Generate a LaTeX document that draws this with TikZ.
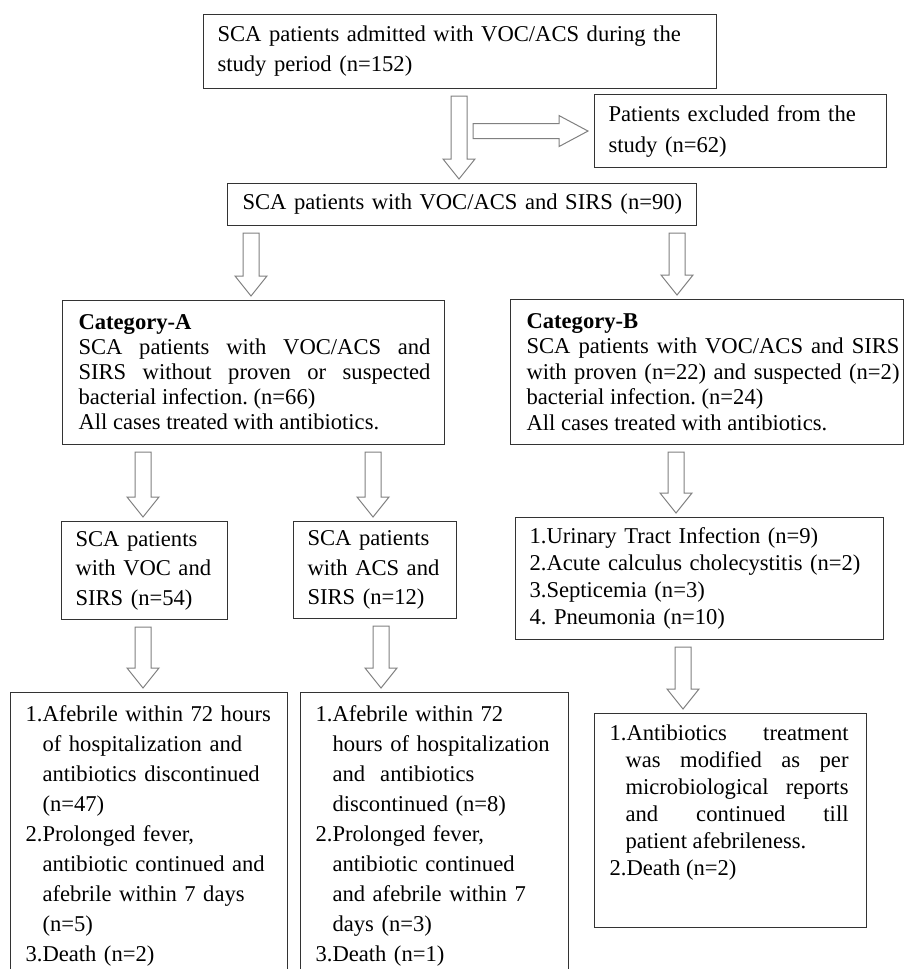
\documentclass[tikz,border=0pt]{standalone}
\usepackage{fontspec}
\setmainfont{Liberation Serif}
\usetikzlibrary{calc}
\frenchspacing

\newcommand{\ragl}[1]{\leftskip=#1pt\rightskip=0pt plus 1fil\relax}
\newcommand{\justl}[2]{\leftskip=#1pt\rightskip=#2pt\spaceskip=5.65pt plus 40pt minus 1pt\xspaceskip=\spaceskip\relax}
\newcommand{\litem}{\hangindent=17pt\hangafter=1\relax}

\newcommand{\hollowdown}[3]{%
\draw[hollow] let \p1=(#2.south), \p2=(#3.north) in
(#1pt-8pt,\y1-7pt) -- (#1pt+8pt,\y1-7pt) -- (#1pt+8pt,\y2+24pt) -- (#1pt+16pt,\y2+24pt) -- (#1pt,\y2+4pt) -- (#1pt-16pt,\y2+24pt) -- (#1pt-8pt,\y2+24pt) -- cycle;}
\newcommand{\hollowright}[2]{%
\draw[hollow] let \p1=(#1), \p2=(#2.west) in
(\x1+6pt,\y2+7.5pt) -- (\x2-35pt,\y2+7.5pt) -- (\x2-35pt,\y2+15.5pt) -- (\x2-6pt,\y2) -- (\x2-35pt,\y2-15.5pt) -- (\x2-35pt,\y2-7.5pt) -- (\x1+6pt,\y2-7.5pt) -- cycle;}

\begin{document}
\begin{tikzpicture}[x=1pt,y=-1pt,
box/.style={draw=black!80, line width=1.1pt, anchor=north west, inner xsep=0pt, inner ysep=4pt, font=\fontsize{22.6}{30}\selectfont},
hollow/.style={draw=black!50, line width=1pt, fill=white}]
\useasboundingbox (0,0) rectangle (904,969);
\clip (0,0) rectangle (904,969);
\fill[white] (0,0) rectangle (904,969);

\node[box, minimum height=74pt, text width=513pt] (top) at (203,14)
{\ragl{14}SCA patients admitted with VOC/ACS during the\newline study period (n=152)\par};
\node[box, minimum height=73pt, text width=292pt, font=\fontsize{22.6}{31}\selectfont] (excl) at (594,94)
{\ragl{14}Patients excluded from the\newline study (n=62)\par};
\node[box, minimum height=42pt, text width=469pt] (sirs) at (227,183)
{\ragl{15}SCA patients with VOC/ACS and SIRS (n=90)\par};

\node[box, minimum height=144pt, text width=382pt, font=\fontsize{22.6}{25}\selectfont] (cata) at (62,300)
{\justl{16}{14}\textbf{Category-A}\newline SCA patients with VOC/ACS and\linebreak SIRS without proven or suspected\linebreak bacterial infection. (n=66)\newline All cases treated with antibiotics.\par};
\node[box, minimum height=145pt, text width=393pt, font=\fontsize{22.6}{25.5}\selectfont] (catb) at (510,299)
{\justl{16}{4}\textbf{Category-B}\newline SCA patients with VOC/ACS and SIRS\linebreak with proven (n=22) and suspected (n=2)\linebreak bacterial infection. (n=24)\newline All cases treated with antibiotics.\par};

\node[box, minimum height=98pt, text width=166pt, font=\fontsize{22.6}{29.5}\selectfont] (voc) at (61,521)
{\ragl{14}SCA patients\newline with VOC and\newline SIRS (n=54)\par};
\node[box, minimum height=97pt, text width=163pt, font=\fontsize{22.6}{29.5}\selectfont] (acs) at (293,521)
{\ragl{14}SCA patients\newline with ACS and\newline SIRS (n=12)\par};
\node[box, minimum height=122pt, text width=368pt, font=\fontsize{22.6}{27}\selectfont] (uti) at (515,517)
{\ragl{14}1.Urinary Tract Infection (n=9)\newline 2.Acute calculus cholecystitis (n=2)\newline 3.Septicemia (n=3)\newline 4. Pneumonia (n=10)\par};

\node[box, inner ysep=13pt, text width=277pt] (resa) at (10,692)
{\ragl{15}\litem 1.Afebrile within 72 hours\newline of hospitalization and\newline antibiotics discontinued\newline (n=47)\par\litem 2.Prolonged fever,\newline antibiotic continued and\newline afebrile within 7 days\newline (n=5)\par\litem 3.Death (n=2)\par};
\node[box, inner ysep=13pt, text width=268pt] (resb) at (300,692)
{\ragl{15}\litem 1.Afebrile within 72\newline hours of hospitalization\newline and\ \ antibiotics\newline discontinued (n=8)\par\litem 2.Prolonged fever,\newline antibiotic continued\newline and afebrile within 7\newline days (n=3)\par\litem 3.Death (n=1)\par};
\node[box, inner ysep=11pt, text depth=176pt, text width=272pt, font=\fontsize{22.6}{27}\selectfont] (resc) at (594,713)
{\justl{15}{18}\hangindent=16pt\hangafter=1 1.Antibiotics treatment\linebreak was modified as per\linebreak microbiological reports\linebreak and continued till\linebreak patient afebrileness.\par 2.Death (n=2)\par};

\coordinate (split) at (467,130.5);
\hollowdown{459}{top}{sirs}
\hollowright{split}{excl}
\hollowdown{251}{sirs}{cata}
\hollowdown{677}{sirs}{catb}
\hollowdown{143}{cata}{voc}
\hollowdown{373}{cata}{acs}
\hollowdown{676}{catb}{uti}
\hollowdown{143}{voc}{resa}
\hollowdown{381}{acs}{resb}
\hollowdown{683}{uti}{resc}
\end{tikzpicture}
\end{document}
